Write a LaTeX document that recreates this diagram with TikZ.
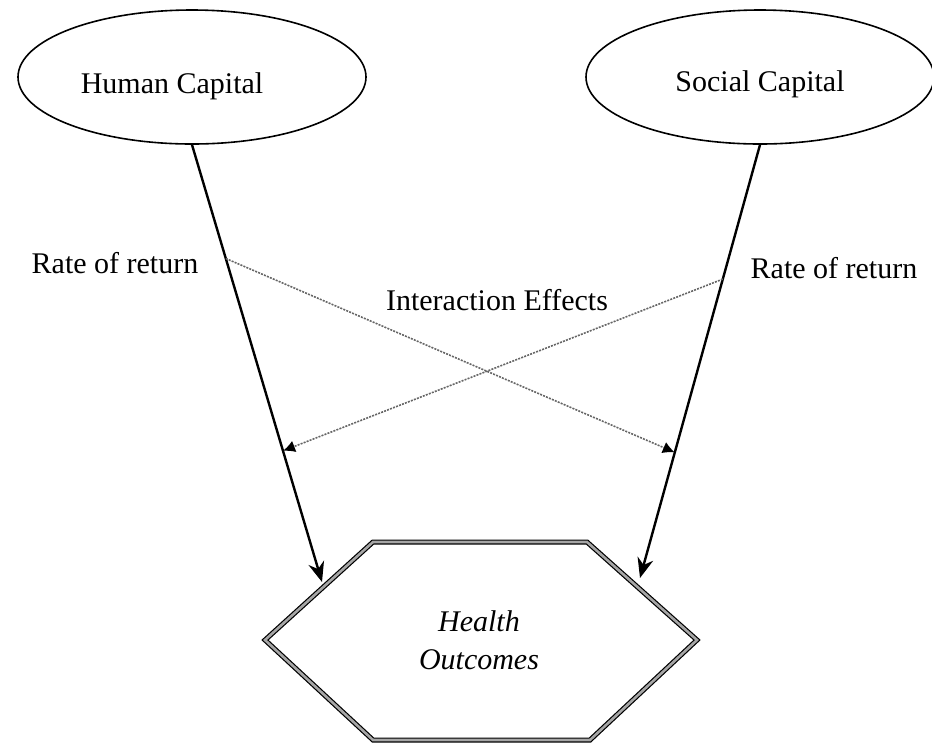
\documentclass[tikz,border=0pt]{standalone}
\usepackage{fontspec}
\setmainfont{Liberation Serif}
\usetikzlibrary{shapes.geometric}
\tikzset{
  capital/.style={draw, ellipse, line width=0.8pt, minimum width=174pt, minimum height=67pt, inner sep=0pt},
  effect/.style={draw=black!60, line width=0.8pt, dash pattern=on 1pt off 0.6pt, -{Latex[length=6pt,width=6pt,black]}},
  direct/.style={line width=1.2pt, -{Stealth[length=10pt,width=8pt]}},
  lbl/.style={font=\fontsize{15}{18}\selectfont, inner sep=0pt}
}
\usetikzlibrary{arrows.meta}
\begin{document}
\begin{tikzpicture}[x=0.5pt,y=-0.5pt]
\useasboundingbox (0,0) rectangle (932,746);

% ellipses
\node[capital] (human) at (192,77) {};
\node[capital] (social) at (760,77) {};
\node[lbl] (humantxt) at (172,86) {Human Capital};
\node[lbl] (socialtxt) at (760,84) {Social Capital};

% hexagon
\draw[line width=0.6pt, double=black!35, double distance=1.3pt]
  (373,542) -- (587,542) -- (697,640) -- (590,740) -- (373,740) -- (265,640) -- cycle;
\node[lbl, align=center, font=\fontsize{15}{19}\selectfont\itshape] (health) at (479,640) {Health\\Outcomes};
\coordinate (hin) at (322,582);
\coordinate (sin) at (640,578);

% direct effects
\draw[direct] (human.south) -- (hin);
\draw[direct] (social.south) -- (sin);
\path (human.south) -- (hin) coordinate[pos=0.26] (h1) coordinate[pos=0.70] (h2);
\path (social.south) -- (sin) coordinate[pos=0.31] (s1) coordinate[pos=0.71] (s2);

% interaction effects
\draw[effect] (h1) -- (s2);
\draw[effect] (s1) -- (h2);

% labels
\node[lbl] (rateh) at (115,263) {Rate of return};
\node[lbl] (rates) at (834,268) {Rate of return};
\node[lbl] (inter) at (497,300) {Interaction Effects};
\end{tikzpicture}
\end{document}
